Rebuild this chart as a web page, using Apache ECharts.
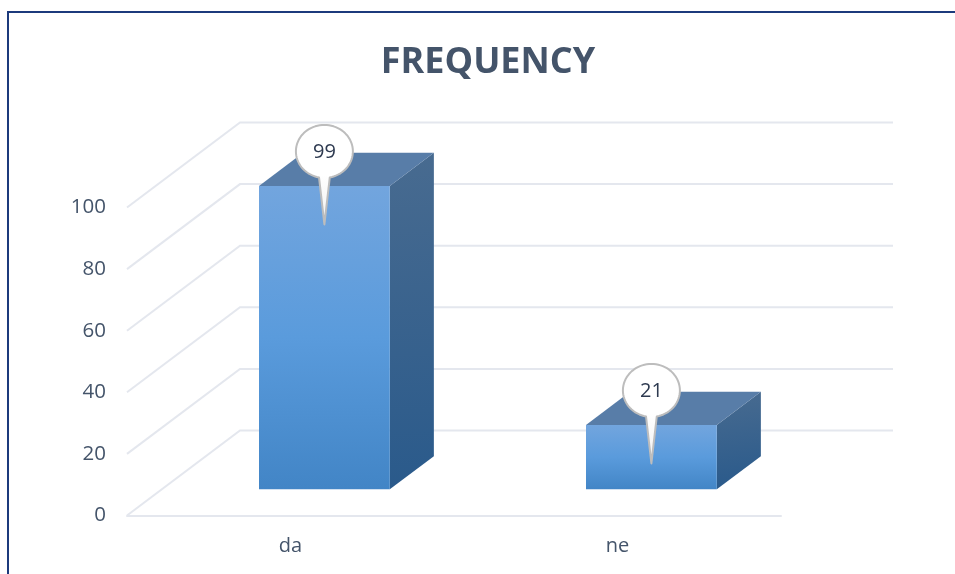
<!DOCTYPE html>
<html>
<head>
<meta charset="utf-8">
<style>html,body{margin:0;padding:0;background:#fff}#c{width:955px;height:574px}</style>
<script src="https://cdn.jsdelivr.net/npm/echarts@6/dist/echarts.min.js"></script>
</head>
<body>
<div id="c"></div>
<script>
const categories = ['da', 'ne'];
const values = [99, 21];
const yTicks = [0, 20, 40, 60, 80, 100];
const titleText = 'FREQUENCY';

const FONT = '"Open Sans", sans-serif';
const TEXT = '#44546a', WALL = '#e4e7ee';
const DX = 113, DY = -85;        // full floor depth
const BAR_START = 0.30, BAR_DEPTH = 0.39, BAR_W = 0.4, V_SCALE = 0.995;
const G = echarts.graphic;
const grad = (x, y, x2, y2, a, b, c) => new G.LinearGradient(x, y, x2, y2,
  c ? [{offset: 0, color: a}, {offset: 0.5, color: b}, {offset: 1, color: c}]
    : [{offset: 0, color: a}, {offset: 1, color: b}]);

function renderWall(params, api) {
  const p = api.coord([api.value(0), api.value(1)]);
  const left = params.coordSys.x, right = left + params.coordSys.width;
  return {
    type: 'polyline', silent: true,
    shape: {points: [[left, p[1]], [left + DX, p[1] + DY], [right + 112, p[1] + DY]]},
    style: {stroke: WALL, lineWidth: 2, fill: null}
  };
}

function calloutPoints(cx, cy, rx, ry, tipY) {
  const pts = [];
  const neck = 0.19;
  for (let i = 0; i <= 72; i++) {
    const a = Math.PI / 2 + neck + (2 * Math.PI - 2 * neck) * i / 72;
    pts.push([cx + rx * Math.cos(a), cy + ry * Math.sin(a)]);
  }
  pts.push([cx, tipY]);
  return pts;
}

function renderBar(params, api) {
  const cat = api.value(0), val = api.value(1);
  const base = api.coord([cat, 0]);
  const top = api.coord([cat, val]);
  const band = api.size([1, 0])[0];
  const w = band * BAR_W;
  const x0 = base[0] + DX * BAR_START - w / 2, x1 = x0 + w;
  const y0 = base[1] + DY * BAR_START - 0.7;
  const yT = y0 - (base[1] - top[1]) * V_SCALE;
  const ox = DX * BAR_DEPTH, oy = DY * BAR_DEPTH;
  const cx = (x0 + x1) / 2, cy = yT - 34.5;
  return {
    type: 'group', silent: true,
    children: [
      {type: 'polygon', shape: {points: [[x1, yT], [x1 + ox, yT + oy], [x1 + ox, y0 + oy], [x1, y0]]},
       style: {fill: grad(0, 0, 0.25, 1, '#486b90', '#2a5a8b')}},
      {type: 'polygon', shape: {points: [[x0, yT], [x1, yT], [x1 + ox, yT + oy], [x0 + ox, yT + oy]]},
       style: {fill: '#587da8'}},
      {type: 'rect', shape: {x: x0, y: yT, width: w, height: y0 - yT},
       style: {fill: grad(0, 0, 0, 1, '#72a5de', '#5a9bdc', '#4285c6')}},
      {type: 'polygon', shape: {points: calloutPoints(cx, cy, 28.5, 26.5, cy + 73)},
       style: {fill: grad(0, 0, 0, 1, '#ffffff', '#ffffff', '#f0f0f0'), stroke: '#bdbdbd', lineWidth: 2, lineJoin: 'round'}},
      {type: 'text', style: {x: cx, y: cy + 1, text: String(val), align: 'center', verticalAlign: 'middle',
        fill: '#2e3a50', font: '20px ' + FONT}}
    ]
  };
}

const chart = echarts.init(document.getElementById('c'), null, {renderer: 'canvas'});
chart.setOption({
  animation: false,
  backgroundColor: '#ffffff',
  title: {
    text: titleText, left: 483, top: 40, textAlign: 'center',
    textStyle: {fontFamily: FONT, fontSize: 36, fontWeight: 'bold', color: TEXT}
  },
  grid: {left: 127, top: 207.5, width: 654, height: 308},
  xAxis: {
    type: 'category', data: categories,
    axisLine: {show: true, lineStyle: {color: WALL, width: 2}},
    axisTick: {show: false},
    axisLabel: {fontFamily: FONT, fontSize: 20, color: TEXT, margin: 21}
  },
  yAxis: {
    type: 'value', min: 0, max: 100, interval: 20,
    axisLine: {show: false}, axisTick: {show: false}, splitLine: {show: false},
    axisLabel: {fontFamily: FONT, fontSize: 20.5, color: TEXT, margin: 21, padding: [6, 0, 0, 0]}
  },
  graphic: [{
    type: 'polyline', silent: true, z: 100,
    shape: {points: [[955, 12], [8, 12], [8, 574]]},
    style: {stroke: '#1c3a7c', lineWidth: 2, fill: null}
  }],
  series: [
    {type: 'custom', renderItem: renderWall, z: 1, silent: true,
     data: yTicks.map(t => [0, t])},
    {type: 'custom', renderItem: renderBar, z: 2, silent: true,
     data: values.map((v, i) => [i, v])}
  ]
});
</script>
</body>
</html>
